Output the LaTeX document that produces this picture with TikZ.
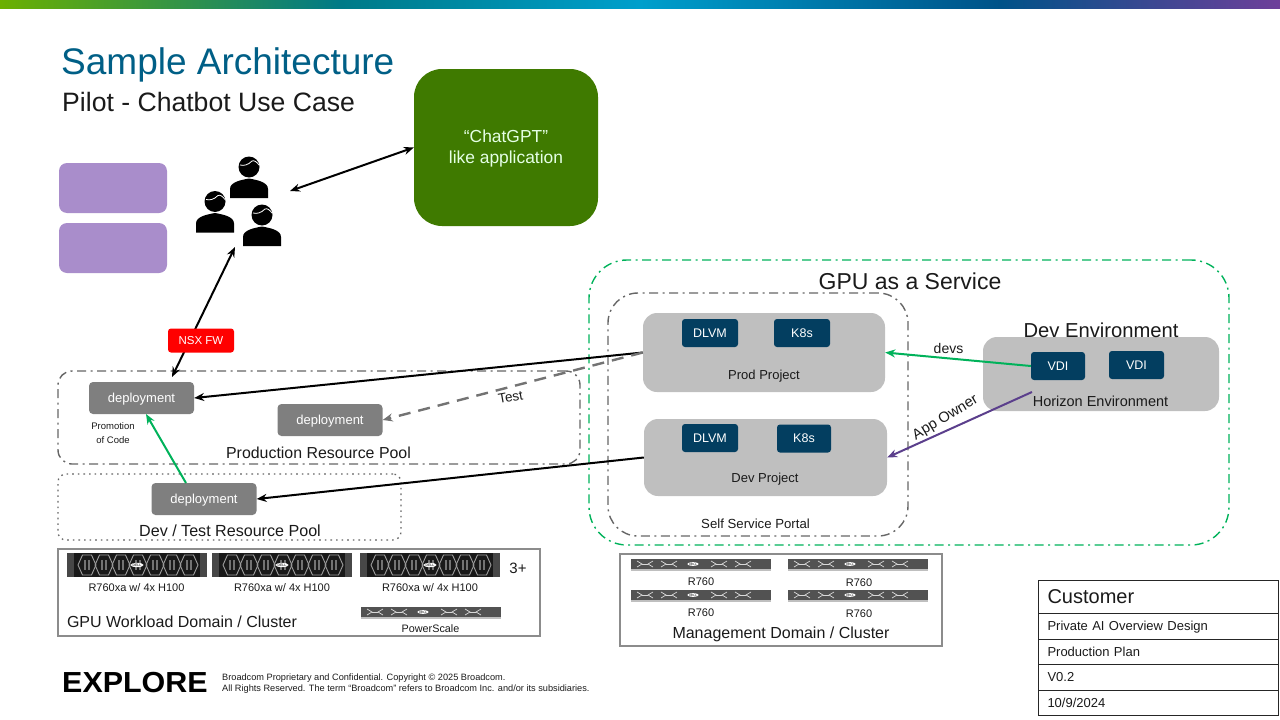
\documentclass[tikz,border=0pt]{standalone}
\usepackage{fontspec}
\setmainfont{Liberation Sans}
\usetikzlibrary{arrows.meta, positioning, shapes.geometric}

\definecolor{titleblue}{HTML}{005F86}
\definecolor{appgreen}{HTML}{3F7A00}
\definecolor{lilac}{HTML}{A98DCB}
\definecolor{deploygray}{HTML}{7F7F7F}
\definecolor{projgray}{HTML}{BFBFBF}
\definecolor{navy}{HTML}{033E60}
\definecolor{flowgreen}{HTML}{00B25A}
\definecolor{ownerpurple}{HTML}{5B3F8C}
\definecolor{framegray}{HTML}{8C8C8C}
\definecolor{ink}{HTML}{1A1A1A}
\definecolor{barA}{HTML}{6BB000}
\definecolor{barB}{HTML}{007A87}
\definecolor{barC}{HTML}{009FCC}
\definecolor{barD}{HTML}{005288}
\definecolor{barE}{HTML}{6E3F9A}

\newcommand{\px}[1]{\fontsize{#1}{#1}\selectfont}

\newcommand{\bigserver}[3]{
  \begin{scope}[shift={(#1,#2)}]
    \fill[black!90] (0,0) rectangle (140,24);
    \fill[black!72] (0,0) rectangle (7,24);
    \fill[black!72] (133,0) rectangle (140,24);
    \foreach \cx in {20,37,...,122} {
      \draw[black!38, line width=0.9pt] (\cx-9,12) -- (\cx-4.5,2) -- (\cx+4.5,2) -- (\cx+9,12) -- (\cx+4.5,22) -- (\cx-4.5,22) -- cycle;
      \draw[black!55, line width=1.4pt] (\cx-2,7) -- (\cx-2,17);
      \draw[black!55, line width=1.4pt] (\cx+2,7) -- (\cx+2,17);
    }
    \node[logo, font=\px{3.5}] (#3) at (70,12) {DELL};
  \end{scope}
}

\newcommand{\slimserver}[3]{
  \begin{scope}[shift={(#1,#2)}]
    \fill[black!68] (0,0) rectangle (140,10);
    \fill[black!25] (0,10) rectangle (140,11.5);
    \foreach \cx in {14,38,88,112} {
      \draw[white!85!black, line width=0.7pt] (\cx-8,2) -- (\cx-3,5) -- (\cx-8,8);
      \draw[white!85!black, line width=0.7pt] (\cx+8,2) -- (\cx+3,5) -- (\cx+8,8);
      \draw[white!85!black, line width=0.7pt] (\cx-3,5) -- (\cx+3,5);
    }
    \node[logo, font=\px{3}] (#3) at (62,5) {DELL};
  \end{scope}
}

\newcommand{\person}[2]{
  \begin{scope}[shift={(#1,#2)}]
    \fill[black] (0,0) circle (10.5);
    \fill[black] (-19,31) -- (-19,22) .. controls (-19,15) and (-8,13) .. (0,11.5) .. controls (8,13) and (19,15) .. (19,22) -- (19,31) -- cycle;
    \draw[white, line width=0.8pt] (-9,-2) .. controls (-5,-1) and (-1,-2) .. (3,-6) .. controls (5,-7) and (8,-5) .. (10,-2);
  \end{scope}
}

\tikzset{
  logo/.style = {ellipse, fill=white, text=black, inner sep=0.3pt},
  purplebox/.style = {rounded corners=8pt, fill=lilac, minimum width=108pt, minimum height=50pt},
  deploy/.style = {rounded corners=4pt, fill=deploygray, text=white, font=\px{13}, inner sep=0pt, text depth=0pt, minimum width=105pt, minimum height=32pt},
  project/.style = {rounded corners=14pt, fill=projgray, inner sep=0pt},
  tile/.style = {rounded corners=3pt, fill=navy, text=white, font=\px{12.5}, inner sep=0pt, minimum height=28pt},
  caption/.style = {text=ink, inner sep=0pt},
  domainbox/.style = {draw=framegray, line width=1.2pt, inner sep=0pt},
  chainframe/.style = {rounded corners=#1, inner sep=0pt, dash pattern=on 9pt off 4.5pt on 2pt off 4.5pt, line width=1.4pt},
  link/.style = {-{Stealth[length=10pt,width=8pt]}, line width=2pt},
  bothlink/.style = {{Stealth[length=10pt,width=8pt]}-{Stealth[length=10pt,width=8pt]}, line width=2pt},
  rowbox/.style = {draw=black!85, line width=0.9pt, inner sep=0pt, inner xsep=9.5pt, minimum width=240pt, text width=221pt, text depth=0pt, align=left, text=ink}
}

\begin{document}
\begin{tikzpicture}[x=1pt, y=-1pt]
  \useasboundingbox (0,0) rectangle (1280,720);

  % top bar
  \shade[left color=barA, right color=barB] (0,0) rectangle (340,8);
  \shade[left color=barB, right color=barC] (340,0) rectangle (640,8);
  \shade[left color=barC, right color=barD] (640,0) rectangle (1000,8);
  \shade[left color=barD, right color=barE] (1000,0) rectangle (1280,8);

  \node[anchor=west, inner sep=0pt, text=titleblue, font=\px{37}] (title) at (61,65) {Sample Architecture};
  \node[anchor=west, inner sep=0pt, text=ink, font=\px{26.6}] (subtitle) at (62,101.5) {Pilot - Chatbot Use Case};

  \node[rounded corners=28pt, fill=appgreen, inner sep=0pt, minimum width=184pt, minimum height=157pt] (chatapp) at (506,147.5) {};
  \node[text=white!90!green, inner sep=0pt, align=center, font=\fontsize{17.4}{21}\selectfont] (chatlabel) at (506,148.5) {``ChatGPT''\\like application};

  \node[purplebox] (lilactop) at (113,188) {};
  \node[purplebox] (lilacbottom) at (113,248) {};

  \person{249}{167}
  \person{215}{201.5}
  \person{262}{215}

  % frames
  \node[chainframe=38pt, draw=flowgreen, minimum width=640pt, minimum height=285pt] (gaas) at (909,402.5) {};
  \node[chainframe=30pt, draw=black!60, minimum width=300pt, minimum height=243pt] (portal) at (758,414.5) {};
  \node[chainframe=14pt, draw=black!60, minimum width=522pt, minimum height=93pt] (prodpool) at (319,417.5) {};
  \node[rounded corners=8pt, draw=black!60, dash pattern=on 1.6pt off 4pt, line width=1.3pt, inner sep=0pt, minimum width=343pt, minimum height=66pt] (devpool) at (229.5,507) {};

  \node[caption, font=\px{23}] (gaaslabel) at (910,281) {GPU as a Service};
  \node[caption, font=\px{13.2}] (portallabel) at (755.5,523.5) {Self Service Portal};
  \node[caption, font=\px{15.9}] (prodpoollabel) at (318.5,453) {Production Resource Pool};
  \node[caption, font=\px{16.1}] (devpoollabel) at (230,530.5) {Dev / Test Resource Pool};

  % deployments
  \node[deploy] (deploya) at (141.5,398) {deployment};
  \node[deploy] (deployb) at (330,420) {deployment};
  \node[deploy] (deployc) at (204,499) {deployment};
  \node[caption, align=center, font=\fontsize{9.5}{14}\selectfont] (promotion) at (113,433) {Promotion\\of Code};

  % projects
  \node[project, minimum width=242pt, minimum height=79pt] (prodproj) at (764,352.5) {};
  \node[project, minimum width=243pt, minimum height=77pt] (devproj) at (765.5,457.5) {};
  \node[project, minimum width=236pt, minimum height=74pt] (horizon) at (1101,374) {};

  \node[tile, minimum width=56pt] (dlvmprod) at (710,333) {DLVM};
  \node[tile, minimum width=56pt] (k8sprod) at (802,333) {K8s};
  \node[caption, font=\px{13}] (prodlabel) at (764,376) {Prod Project};
  \node[tile, minimum width=56pt] (dlvmdev) at (710,438) {DLVM};
  \node[tile, minimum width=54pt] (k8sdev) at (804,438.5) {K8s};
  \node[caption, font=\px{13}] (devlabel) at (765,479) {Dev Project};
  \node[tile, minimum width=54pt] (vdia) at (1058,366) {VDI};
  \node[tile, minimum width=55pt] (vdib) at (1136.5,365) {VDI};
  \node[caption, font=\px{20.2}] (devenvlabel) at (1101,330.5) {Dev Environment};
  \node[caption, font=\px{14.5}] (horizonlabel) at (1100.5,401.5) {Horizon Environment};

  % free arrow ends
  \coordinate (usersright) at (290,191);
  \coordinate (usersbelow) at (235,247);
  \coordinate (poolabove) at (172,377);
  \coordinate (deploycup) at (186,483);
  \coordinate (deployadown) at (146,414);
  \coordinate (horizonout) at (1032,392);

  \draw[bothlink] (usersright) -- (chatapp.west);
  \draw[bothlink] (usersbelow) -- (poolabove);
  \draw[link] (prodproj.west) -- (deploya.east);
  \draw[link, black!55, line width=2.4pt, dash pattern=on 12pt off 8pt] (prodproj.west) -- (deployb.east);
  \draw[link] (devproj.west) -- (deployc.east);
  \draw[link, flowgreen] (deploycup) -- (deployadown);
  \draw[link, flowgreen] (vdia.west) -- (prodproj.east);
  \draw[link, ownerpurple] (horizonout) -- (devproj.east);

  \node[rounded corners=3pt, fill=red, text=white, font=\px{11.5}, inner sep=0pt, minimum width=66pt, minimum height=24pt] (nsx) at (201,340.5) {NSX FW};
  \node[caption, font=\px{13.5}, rotate=10] (testlabel) at (510.5,397) {Test};
  \node[caption, font=\px{14}] (devslabel) at (948.5,348) {devs};
  \node[caption, font=\px{14.7}, rotate=31] (ownerlabel) at (945.5,418) {App Owner};

  % gpu domain
  \node[domainbox, minimum width=482pt, minimum height=87pt] (gpudomain) at (299,592.5) {};
  \bigserver{67}{553}{logoa}
  \bigserver{212}{553}{logob}
  \bigserver{360}{553}{logoc}
  \node[caption, font=\px{11}] (gpua) at (136.5,588) {R760xa w/ 4x H100};
  \node[caption, font=\px{11}] (gpub) at (282,588) {R760xa w/ 4x H100};
  \node[caption, font=\px{11}] (gpuc) at (430,588) {R760xa w/ 4x H100};
  \node[caption, font=\px{15}] (threeplus) at (518,568.5) {3+};
  \slimserver{361}{607}{logod}
  \node[caption, font=\px{10.8}] (powerscale) at (430.5,629) {PowerScale};
  \node[caption, font=\px{16}] (gpulabel) at (182,622) {GPU Workload Domain / Cluster};

  % management domain
  \node[domainbox, minimum width=322pt, minimum height=92pt] (mgmtdomain) at (781,600) {};
  \slimserver{631}{559}{logoe}
  \slimserver{788}{559}{logof}
  \slimserver{631}{590}{logog}
  \slimserver{788}{590}{logoh}
  \node[caption, font=\px{11}] (mgmta) at (701,581.5) {R760};
  \node[caption, font=\px{11}] (mgmtb) at (859,583) {R760};
  \node[caption, font=\px{11}] (mgmtc) at (701,613) {R760};
  \node[caption, font=\px{11}] (mgmtd) at (859,613.5) {R760};
  \node[caption, font=\px{16}] (mgmtlabel) at (781,634) {Management Domain / Cluster};

  % customer table
  \node[rowbox, minimum height=33pt, font=\px{20}] (rowa) at (1158,596.5) {Customer};
  \node[rowbox, minimum height=26pt, font=\px{13}] (rowb) at (1158,626) {Private AI Overview Design};
  \node[rowbox, minimum height=25pt, font=\px{13}] (rowc) at (1158,651.5) {Production Plan};
  \node[rowbox, minimum height=26pt, font=\px{13}] (rowd) at (1158,677) {V0.2};
  \node[rowbox, minimum height=25pt, font=\px{13}] (rowe) at (1158,702.5) {10/9/2024};

  % footer
  \node[anchor=west, inner sep=0pt, font=\bfseries\px{29}, text=black] (explore) at (62,682.5) {\scalebox{1.05}[1]{EXPLORE}};
  \node[anchor=west, inner sep=0pt, align=left, text=ink, font=\fontsize{9.2}{11}\selectfont] (legal) at (222,683.5) {Broadcom Proprietary and Confidential. Copyright © 2025 Broadcom.\\All Rights Reserved. The term “Broadcom” refers to Broadcom Inc. and/or its subsidiaries.};
\end{tikzpicture}
\end{document}
